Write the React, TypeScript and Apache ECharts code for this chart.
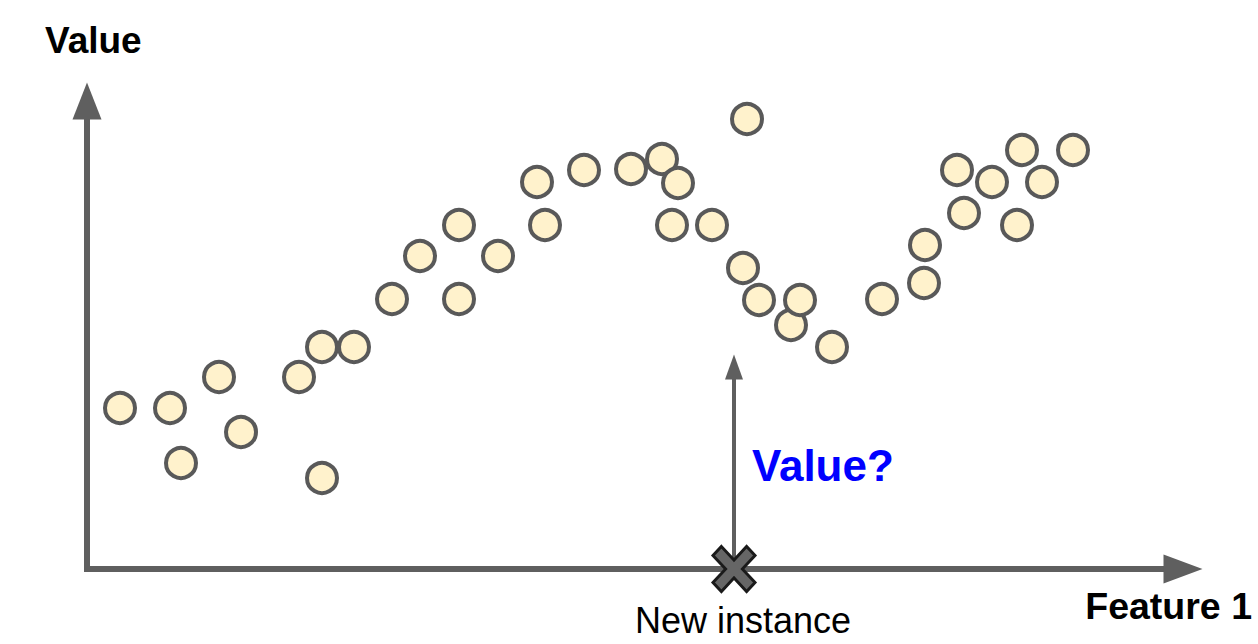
import React, { useEffect, useRef } from "react";
import * as echarts from "echarts";

// Training instances (Feature 1, Value) in chart units
const featureValues: number[] = [
  3.3, 8.3, 9.4, 13.2, 15.4, 21.2, 23.5, 23.5, 26.7, 30.5, 33.3, 37.2, 37.2,
  41.1, 45.0, 45.8, 49.7, 54.4, 57.5, 59.1, 58.5, 62.5, 66.0, 65.6, 67.2, 70.4,
  71.3, 74.5, 79.5, 83.7, 83.8, 87.0, 87.7, 90.5, 93.0, 93.5, 95.5, 98.6,
];
const targetValues: number[] = [
  16.1, 16.1, 10.6, 19.2, 13.7, 19.2, 22.2, 9.1, 22.2, 27.0, 31.3, 34.4, 27.0,
  31.3, 38.7, 34.4, 39.9, 40.0, 41.0, 38.6, 34.4, 34.4, 45.0, 30.1, 26.9, 24.4,
  26.9, 22.2, 27.0, 28.6, 32.4, 39.9, 35.6, 38.7, 34.4, 41.9, 38.7, 41.9,
];
// New instance position on Feature 1 and the height of the "Value?" arrow
const newInstanceFeature = 64.7;
const questionArrowTop = 20.2;
const xMax = 109.6;
const yMax = 46.8;

const labels = {
  yName: "Value",
  xName: "Feature 1",
  newInstance: "New instance",
  question: "Value?",
};

const FONT = '"Liberation Sans", Arial, sans-serif';
const AXIS_COLOR = "#5f5f5f";

export default function App() {
  const ref = useRef<HTMLDivElement>(null);

  useEffect(() => {
    if (!ref.current) return;
    const chart = echarts.init(ref.current, null, { renderer: "svg" });
    const points = featureValues.map((x, i) => [x, targetValues[i]]);

    const axisCommon = {
      type: "value" as const,
      min: 0,
      axisTick: { show: false },
      axisLabel: { show: false },
      splitLine: { show: false },
    };

    chart.setOption({
      animation: false,
      backgroundColor: "#ffffff",
      grid: { left: 87, top: 101, width: 1096, height: 468 },
      xAxis: {
        ...axisCommon,
        max: xMax,
        axisLine: {
          show: true,
          symbol: ["none", "triangle"],
          symbolSize: [29, 39],
          lineStyle: { color: AXIS_COLOR, width: 6, cap: "square" },
        },
      },
      yAxis: {
        ...axisCommon,
        max: yMax,
        axisLine: {
          show: true,
          onZero: false,
          symbol: ["none", "triangle"],
          symbolSize: [29, 37],
          lineStyle: { color: AXIS_COLOR, width: 6, cap: "square" },
        },
      },
      series: [
        {
          type: "scatter",
          data: points,
          symbol: "circle",
          symbolSize: 30,
          clip: false,
          z: 3,
          itemStyle: {
            color: "#fff2cc",
            borderColor: "#595959",
            borderWidth: 4,
            opacity: 1,
          },
        },
        {
          type: "scatter",
          data: [],
          z: 2,
          markLine: {
            silent: true,
            symbol: ["none", "triangle"],
            symbolSize: [18, 25],
            label: { show: false },
            lineStyle: { color: AXIS_COLOR, width: 4, type: "solid" },
            data: [
              [
                { coord: [newInstanceFeature, 0] },
                { coord: [newInstanceFeature, questionArrowTop] },
              ],
            ],
          },
        },
        {
          type: "scatter",
          data: [[newInstanceFeature, 0]],
          symbol:
            "path://M2,0 L5,3 L8,0 L10,2 L7,5 L10,8 L8,10 L5,7 L2,10 L0,8 L3,5 L0,2 Z",
          symbolSize: [42, 45],
          clip: false,
          z: 5,
          itemStyle: {
            color: "#666666",
            borderColor: "#1a1a1a",
            borderWidth: 3,
            opacity: 1,
          },
        },
      ],
      graphic: [
        {
          type: "text",
          x: 45,
          y: 40,
          style: {
            text: labels.yName,
            font: `bold 37px ${FONT}`,
            fill: "#000000",
            align: "left",
            verticalAlign: "middle",
          },
        },
        {
          type: "text",
          x: 1252,
          y: 606,
          style: {
            text: labels.xName,
            font: `bold 37.5px ${FONT}`,
            fill: "#000000",
            align: "right",
            verticalAlign: "middle",
          },
        },
        {
          type: "text",
          x: 743,
          y: 620,
          style: {
            text: labels.newInstance,
            font: `36px ${FONT}`,
            fill: "#000000",
            align: "center",
            verticalAlign: "middle",
          },
        },
        {
          type: "text",
          x: 752,
          y: 465,
          style: {
            text: labels.question,
            font: `bold 44px ${FONT}`,
            fill: "#0000ff",
            align: "left",
            verticalAlign: "middle",
          },
        },
      ],
    });

    return () => chart.dispose();
  }, []);

  return (
    <div
      ref={ref}
      style={{ position: "fixed", left: 0, top: 0, width: 1258, height: 644 }}
    />
  );
}
